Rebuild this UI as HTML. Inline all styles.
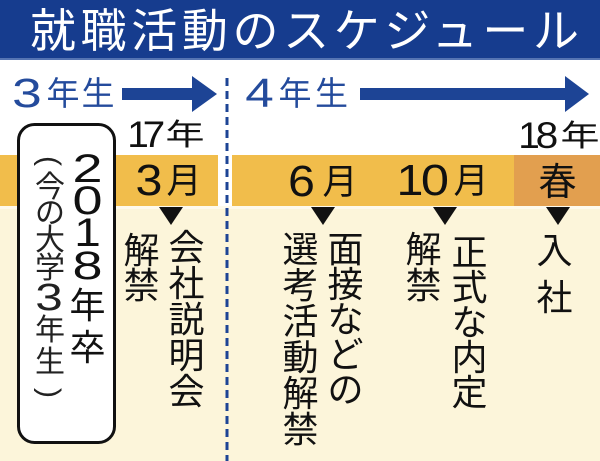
<!DOCTYPE html>
<html>
<head>
<meta charset="utf-8">
<style>
  html, body { margin: 0; padding: 0; background: #fff; }
  svg { display: block; }
  .jp { font-family: "Liberation Sans", "Noto Sans CJK JP", sans-serif; }
  .cj { font-family: "Noto Sans CJK JP", "Liberation Sans", sans-serif; }
  .num { font-family: "Liberation Sans", sans-serif; }
</style>
</head>
<body>
<svg width="600" height="461" viewBox="0 0 600 461" xmlns="http://www.w3.org/2000/svg">
  <!-- background -->
  <rect x="0" y="0" width="600" height="461" fill="#ffffff"/>
  <rect x="0" y="206" width="600" height="255" fill="#fcf5da"/>
  <rect x="0" y="206" width="600" height="3" fill="#fefaec"/>

  <!-- title bar -->
  <rect x="0" y="0" width="600" height="58" fill="#163c8e"/>
  <rect x="0" y="58" width="600" height="2" fill="#5574b3"/>
  <text class="cj" x="30" y="47" font-size="46" fill="#ffffff" textLength="549" lengthAdjust="spacing">就職活動のスケジュール</text>

  <!-- year labels -->
  <g fill="#244b9c" text-anchor="middle">
    <text class="num" x="0" y="0" font-size="41" transform="translate(27,107) scale(1.3,1)">3</text>
    <text class="cj" x="63" y="105" font-size="33">年</text>
    <text class="cj" x="98" y="105" font-size="33">生</text>
    <text class="num" x="0" y="0" font-size="41" transform="translate(259.5,107) scale(1.25,1)">4</text>
    <text class="cj" x="295" y="105" font-size="33">年</text>
    <text class="cj" x="331.5" y="105" font-size="33">生</text>
  </g>

  <!-- arrows -->
  <rect x="122" y="88" width="72" height="12" fill="#1d4495"/>
  <polygon points="192,76 217,94 192,112" fill="#1d4495"/>
  <rect x="360" y="88" width="207" height="12" fill="#1d4495"/>
  <polygon points="565,76 589,94 565,112" fill="#1d4495"/>

  <!-- band -->
  <rect x="0" y="155" width="218" height="51" fill="#f1bd4b"/>
  <rect x="232" y="155" width="282" height="51" fill="#f1bd4b"/>
  <rect x="514" y="155" width="86" height="51" fill="#e29f4f"/>

  <!-- dashed divider -->
  <line x1="227" y1="78" x2="227" y2="461" stroke="#1d4495" stroke-width="3" stroke-dasharray="8 5"/>

  <!-- year tops -->
  <g fill="#111" text-anchor="middle">
    <text class="num" x="0" y="0" font-size="37" transform="translate(138,147) scale(1.05,1)">1</text>
    <text class="num" x="0" y="0" font-size="37" transform="translate(154,147) scale(1.1,1)">7</text>
    <text class="cj" x="0" y="0" font-size="30" transform="translate(185,145) scale(1.3,1)">年</text>

    <text class="num" x="0" y="0" font-size="37" transform="translate(529,148) scale(1.05,1)">1</text>
    <text class="num" x="0" y="0" font-size="37" transform="translate(547,148) scale(1.1,1)">8</text>
    <text class="cj" x="0" y="0" font-size="30" transform="translate(580,146) scale(1.3,1)">年</text>
  </g>

  <!-- month labels -->
  <g fill="#111" text-anchor="middle">
    <text class="num" x="0" y="0" font-size="44" transform="translate(149,195) scale(1.1,1)">3</text>
    <text class="cj" x="184" y="193" font-size="35">月</text>

    <text class="num" x="0" y="0" font-size="44" transform="translate(301.5,196) scale(1.1,1)">6</text>
    <text class="cj" x="340" y="194" font-size="35">月</text>

    <text class="num" x="0" y="0" font-size="44" transform="translate(410,195) scale(1.1,1)">1</text>
    <text class="num" x="0" y="0" font-size="44" transform="translate(435,195) scale(1.15,1)">0</text>
    <text class="cj" x="471" y="193" font-size="35">月</text>

    <text class="cj" x="557.5" y="195" font-size="38">春</text>
  </g>

  <!-- triangles -->
  <polygon points="159,207 183,207 171,225" fill="#111"/>
  <polygon points="311,207 335,207 323,225" fill="#111"/>
  <polygon points="433,207 457,207 445,225" fill="#111"/>
  <polygon points="546,207 570,207 558,225" fill="#111"/>

  <!-- rounded box -->
  <rect x="18.5" y="124.5" width="96" height="318" rx="16" ry="16" fill="#ffffff" stroke="#111" stroke-width="3"/>

  <!-- 2018年卒 -->
  <g fill="#111" text-anchor="middle">
    <text class="num" x="0" y="0" font-size="40" transform="translate(87.5,182) scale(1.35,1)">2</text>
    <text class="num" x="0" y="0" font-size="40" transform="translate(87.5,214) scale(1.35,1)">0</text>
    <text class="num" x="0" y="0" font-size="40" transform="translate(87.5,246) scale(1.2,1)">1</text>
    <text class="num" x="0" y="0" font-size="40" transform="translate(87.5,279) scale(1.35,1)">8</text>
    <text class="cj" x="87.5" y="318" font-size="36">年</text>
    <text class="cj" x="87.5" y="360" font-size="36">卒</text>
  </g>

  <!-- (今の大学3年生) -->
  <g fill="#222" text-anchor="middle">
    <g transform="translate(50,161) rotate(90)">
      <text class="num" x="0" y="10" font-size="30">(</text>
    </g>
    <text class="cj" x="50" y="197" font-size="30">今</text>
    <text class="cj" x="50" y="223" font-size="30">の</text>
    <text class="cj" x="50" y="250" font-size="30">大</text>
    <text class="cj" x="50" y="278" font-size="30">学</text>
    <text class="num" x="0" y="0" font-size="38" transform="translate(49,310) scale(1.3,1)">3</text>
    <text class="cj" x="50" y="340" font-size="30">年</text>
    <text class="cj" x="50" y="372" font-size="30">生</text>
    <g transform="translate(50,393) rotate(90)">
      <text class="num" x="0" y="10" font-size="30">)</text>
    </g>
  </g>

  <!-- vertical columns -->
  <g class="cj" fill="#111" font-size="36" text-anchor="middle">
    <text x="186.5" y="260">会</text>
    <text x="186.5" y="296">社</text>
    <text x="186.5" y="332">説</text>
    <text x="186.5" y="368">明</text>
    <text x="186.5" y="404">会</text>

    <text x="141.5" y="263">解</text>
    <text x="141.5" y="298">禁</text>

    <text x="345.5" y="262">面</text>
    <text x="345.5" y="297">接</text>
    <text x="345.5" y="332">な</text>
    <text x="345.5" y="367">ど</text>
    <text x="345.5" y="402">の</text>

    <text x="300.5" y="262">選</text>
    <text x="300.5" y="298">考</text>
    <text x="300.5" y="334">活</text>
    <text x="300.5" y="370">動</text>
    <text x="300.5" y="406">解</text>
    <text x="300.5" y="442">禁</text>

    <text x="469.5" y="265">正</text>
    <text x="469.5" y="300">式</text>
    <text x="469.5" y="335">な</text>
    <text x="469.5" y="370">内</text>
    <text x="469.5" y="405">定</text>

    <text x="423.5" y="262">解</text>
    <text x="423.5" y="298">禁</text>

    <text x="554.5" y="263">入</text>
    <text x="554.5" y="310">社</text>
  </g>
</svg>
</body>
</html>
